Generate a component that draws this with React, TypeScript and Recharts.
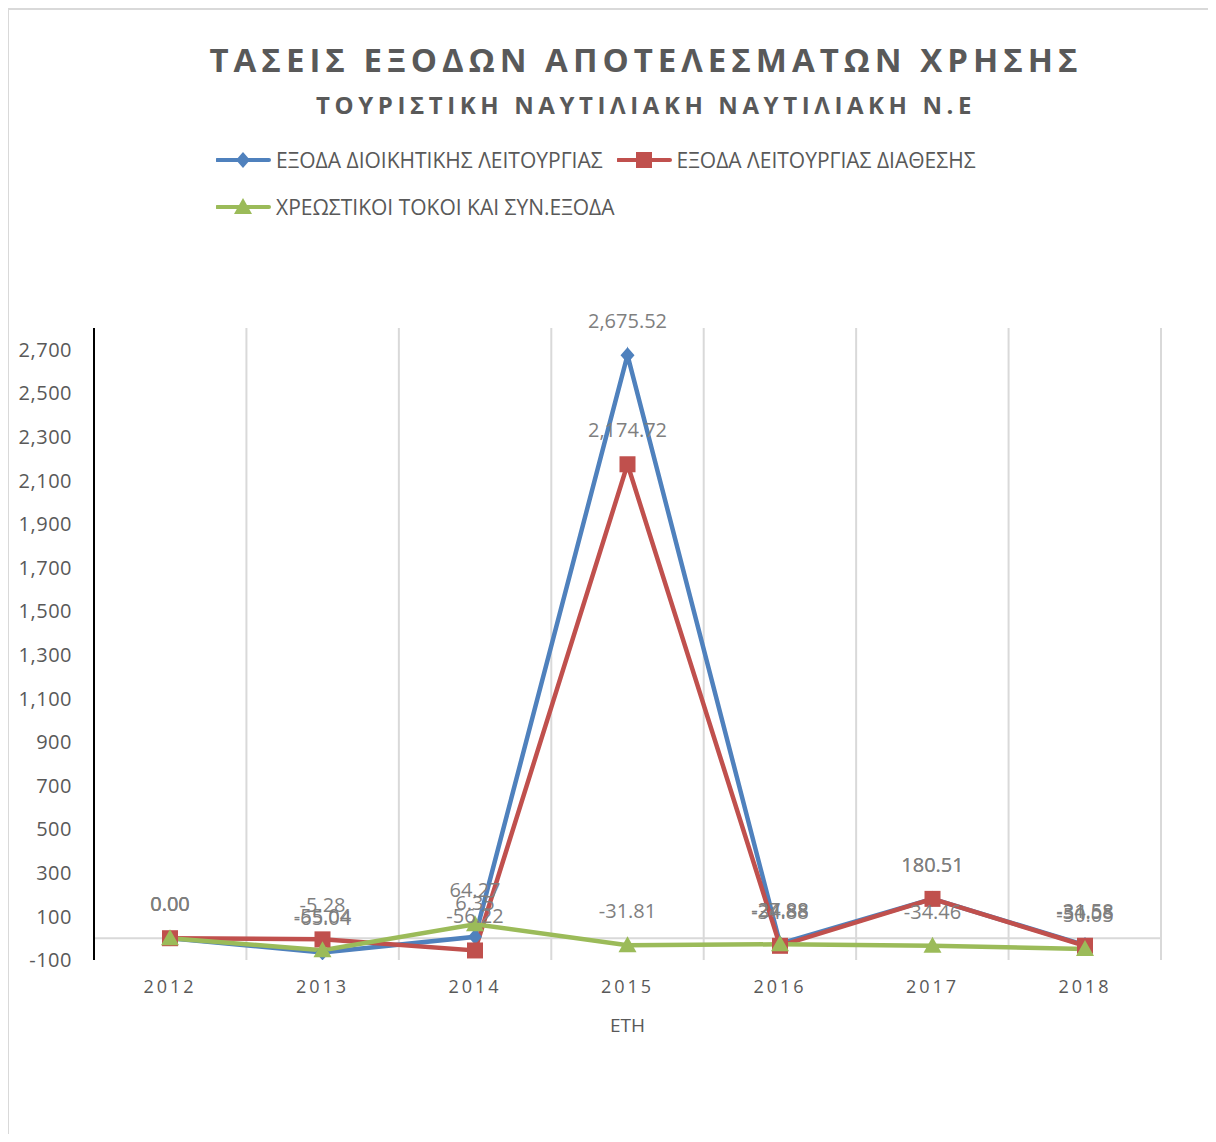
import React from "react";
import { LineChart, Line, XAxis, YAxis, CartesianGrid, ReferenceLine, LabelList } from "recharts";

const years = ["2012", "2013", "2014", "2015", "2016", "2017", "2018"];
const dioikitikis = [0, -65.04, 6.35, 2675.52, -24.88, 180.51, -31.58];
const diathesis = [0, -5.28, -56.22, 2174.72, -34.88, 180.51, -34.58];
const tokoi = [0, -55.04, 64.27, -31.81, -27.88, -34.46, -50.05];
const yTicks = [-100, 100, 300, 500, 700, 900, 1100, 1300, 1500, 1700, 1900, 2100, 2300, 2500, 2700];

const names = {
  a: "ΕΞΟΔΑ ΔΙΟΙΚΗΤΙΚΗΣ ΛΕΙΤΟΥΡΓΙΑΣ",
  b: "ΕΞΟΔΑ ΛΕΙΤΟΥΡΓΙΑΣ ΔΙΑΘΕΣΗΣ",
  c: "ΧΡΕΩΣΤΙΚΟΙ ΤΟΚΟΙ ΚΑΙ ΣΥΝ.ΕΞΟΔΑ",
};

const BLUE = "#4f81bd";
const RED = "#c0504d";
const GREEN = "#9bbb59";
const TEXT = "#595959";

const data = years.map((y, i) => ({ year: y, a: dioikitikis[i], b: diathesis[i], c: tokoi[i] }));

const fmt = (v: any) =>
  Number(v).toLocaleString("en-US", { minimumFractionDigits: 2, maximumFractionDigits: 2 });

function marker(kind: string, cx: number, cy: number, color: string, key?: any) {
  if (kind === "diamond")
    return <path key={key} d={`M${cx},${cy - 8}L${cx + 7},${cy}L${cx},${cy + 8}L${cx - 7},${cy}Z`} fill={color} />;
  if (kind === "square") return <rect key={key} x={cx - 8} y={cy - 8} width={16} height={16} fill={color} />;
  return <path key={key} d={`M${cx},${cy - 9}L${cx + 9},${cy + 7}L${cx - 9},${cy + 7}Z`} fill={color} />;
}

const dotFor = (kind: string, color: string) => (p: any) => marker(kind, p.cx, p.cy, color, p.index);

function LegendItem({ kind, color, label }: { kind: string; color: string; label: string }) {
  return (
    <div style={{ display: "flex", alignItems: "center" }}>
      <svg width={56} height={20} style={{ marginRight: 4 }}>
        <line x1={1} y1={10} x2={53} y2={10} stroke={color} strokeWidth={4} strokeLinecap="round" />
        {marker(kind, 27, 10, color)}
      </svg>
      <span>{label}</span>
    </div>
  );
}

// gridlines sit on the category borders, like the spreadsheet chart
const bandBorders = (props: any) => {
  const off = props.offset;
  const w = off.width / years.length;
  return years.map((_, i) => off.left + i * w).concat(off.left + off.width);
};

export default function App() {
  return (
    <div style={{ position: "relative", width: 1200, height: 1126, fontFamily: "'Open Sans', sans-serif" }}>
      <div style={{ position: "absolute", left: -1, top: 0, width: 1300, height: 1200, borderLeft: "2px solid #d9d9d9", borderTop: "2px solid #d9d9d9" }} />
      <div style={{ position: "absolute", left: 638, top: 31, transform: "translateX(-50%)", whiteSpace: "nowrap", fontSize: 33, lineHeight: "42px", fontWeight: 700, letterSpacing: 5, color: TEXT }}>
        ΤΑΣΕΙΣ ΕΞΟΔΩΝ ΑΠΟΤΕΛΕΣΜΑΤΩΝ ΧΡΗΣΗΣ
      </div>
      <div style={{ position: "absolute", left: 638, top: 82, transform: "translateX(-50%)", whiteSpace: "nowrap", fontSize: 24, lineHeight: "30px", fontWeight: 700, letterSpacing: 4.6, color: TEXT }}>
        ΤΟΥΡΙΣΤΙΚΗ ΝΑΥΤΙΛΙΑΚΗ ΝΑΥΤΙΛΙΑΚΗ Ν.Ε
      </div>
      <div style={{ position: "absolute", left: 208, top: 138, color: TEXT, fontSize: 21, fontFamily: "'Liberation Sans Narrow', 'Open Sans', sans-serif" }}>
        <div style={{ display: "flex", gap: 14, height: 28, alignItems: "center" }}>
          <LegendItem kind="diamond" color={BLUE} label={names.a} />
          <LegendItem kind="square" color={RED} label={names.b} />
        </div>
        <div style={{ display: "flex", height: 28, marginTop: 19, alignItems: "center" }}>
          <LegendItem kind="triangle" color={GREEN} label={names.c} />
        </div>
      </div>
      <LineChart width={1200} height={1126} data={data} margin={{ top: 320, right: 47, bottom: 94, left: 0 }}>
        <CartesianGrid horizontal={false} stroke="#d9d9d9" strokeWidth={2} verticalCoordinatesGenerator={bandBorders} />
        <XAxis
          dataKey="year"
          height={80}
          padding={{ left: 76, right: 76 }}
          axisLine={false}
          tickLine={false}
          tickMargin={14}
          tick={{ fill: TEXT, fontSize: 18, letterSpacing: 3, fontFamily: "'Open Sans', sans-serif" }}
          label={{ value: "ΕΤΗ", position: "insideBottom", offset: 8, fill: TEXT, fontSize: 19, fontFamily: "'Open Sans', sans-serif" }}
        />
        <YAxis
          width={86}
          domain={[-100, 2800]}
          ticks={yTicks}
          allowDataOverflow
          interval={0}
          tickLine={false}
          tickMargin={16}
          axisLine={{ stroke: "#000", strokeWidth: 2 }}
          tickFormatter={(v) => v.toLocaleString("en-US")}
          tick={{ fill: TEXT, fontSize: 20, letterSpacing: 0.5, fontFamily: "'Open Sans', sans-serif" }}
        />
        <ReferenceLine y={0} stroke="#d9d9d9" strokeWidth={2} />
        <Line dataKey="a" name={names.a} stroke={BLUE} strokeWidth={4.5} dot={dotFor("diamond", BLUE)} activeDot={false} isAnimationActive={false}>
          <LabelList dataKey="a" position="top" offset={27} formatter={fmt} fill="#7f7f7f" fontSize={20} fontFamily="'Open Sans', sans-serif" />
        </Line>
        <Line dataKey="b" name={names.b} stroke={RED} strokeWidth={4.5} dot={dotFor("square", RED)} activeDot={false} isAnimationActive={false}>
          <LabelList dataKey="b" position="top" offset={27} formatter={fmt} fill="#7f7f7f" fontSize={20} fontFamily="'Open Sans', sans-serif" />
        </Line>
        <Line dataKey="c" name={names.c} stroke={GREEN} strokeWidth={4.5} dot={dotFor("triangle", GREEN)} activeDot={false} isAnimationActive={false}>
          <LabelList dataKey="c" position="top" offset={27} formatter={fmt} fill="#7f7f7f" fontSize={20} fontFamily="'Open Sans', sans-serif" />
        </Line>
      </LineChart>
    </div>
  );
}
